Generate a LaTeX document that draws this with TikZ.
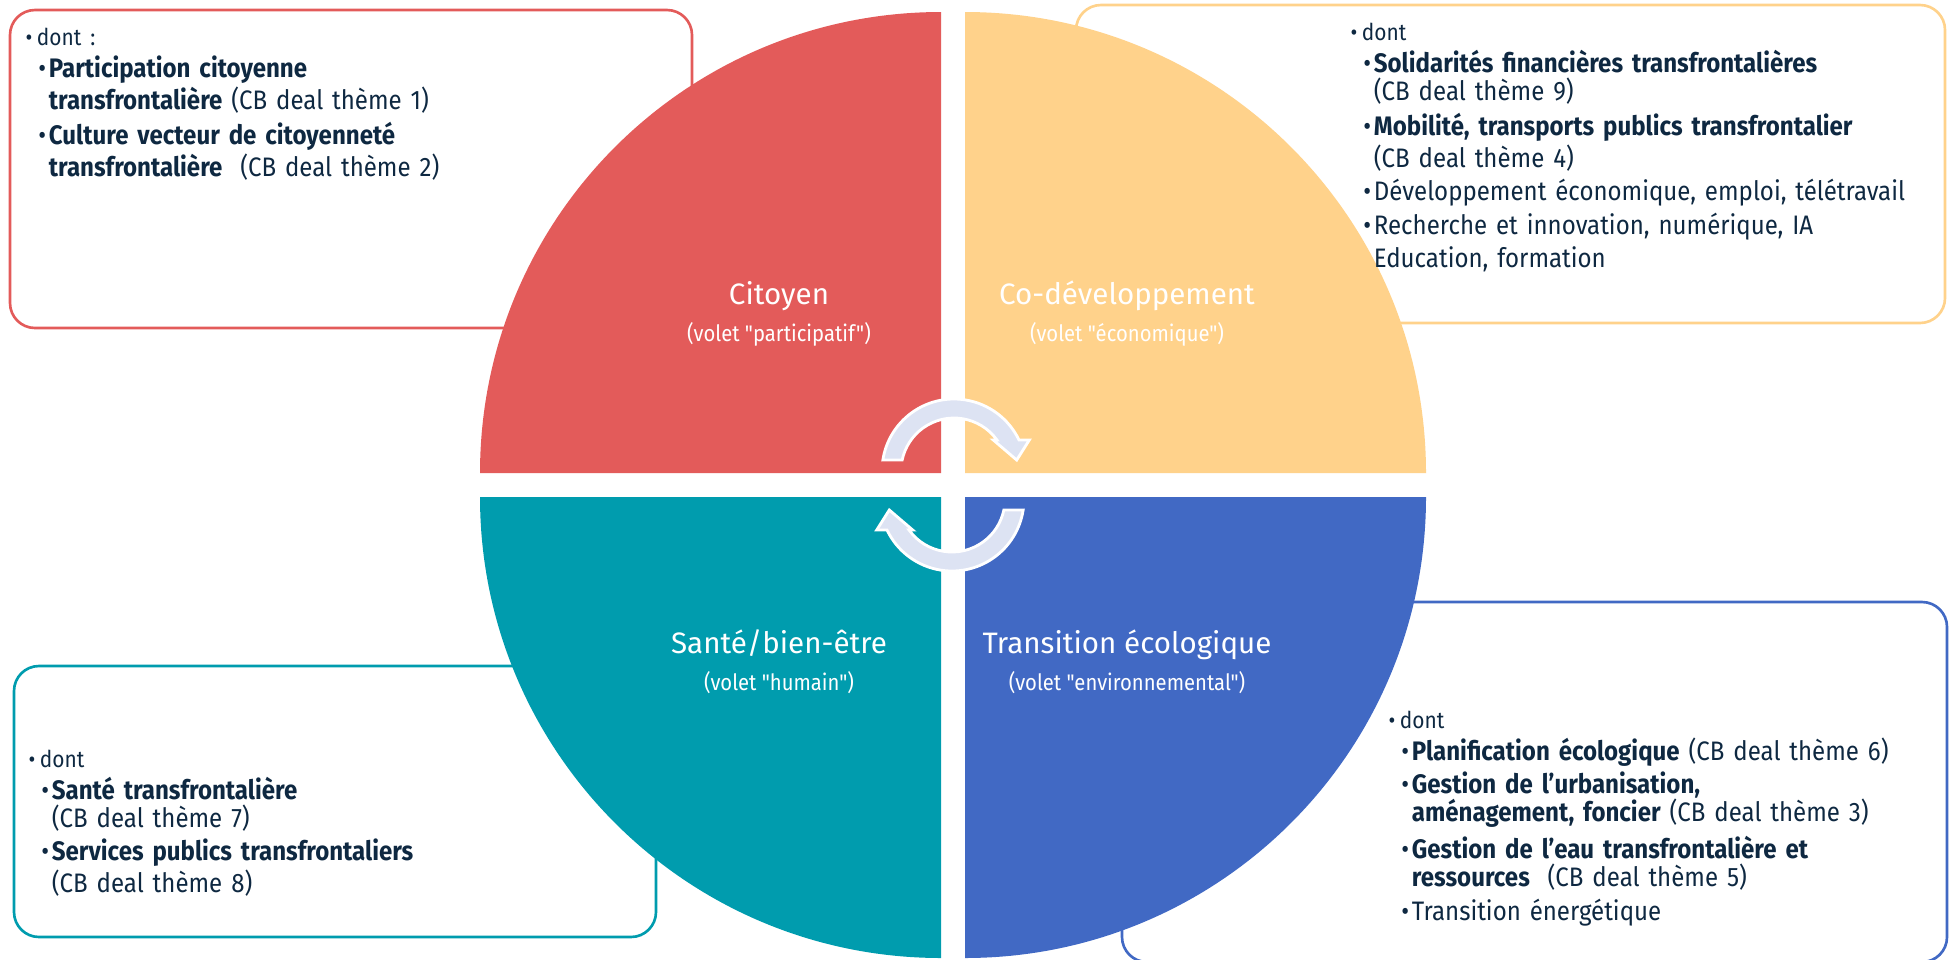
\documentclass[tikz,border=0pt]{standalone}
\usepackage{fontspec}
\setmainfont{Fira Sans}[FakeStretch=0.9, Ligatures=TeXOff]
\newfontfamily\titrefont{Fira Sans}[Ligatures=TeXOff]

\definecolor{rouge}{HTML}{E35B5A}
\definecolor{jaune}{HTML}{FFD28B}
\definecolor{turquoise}{HTML}{009CAE}
\definecolor{bleu}{HTML}{4169C4}
\definecolor{marine}{HTML}{0E2841}
\definecolor{flechefond}{HTML}{DDE3F3}

\newcommand{\dont}[1]{{\fontsize{6.6}{8}\selectfont\makebox[3.2pt][l]{\textbullet}#1}}
\newcommand{\puce}{\hspace*{3.6pt}\makebox[3pt][l]{\textbullet}}
\newcommand{\suite}{\hspace*{6.6pt}}

\tikzset{
  cadre/.style={line width=0.75pt, rounded corners=0.25cm},
  titre/.style={text=white, font=\titrefont\fontsize{8.4}{10}\selectfont, inner sep=0pt},
  soustitre/.style={text=white, font=\fontsize{6.4}{8}\selectfont, inner sep=0pt},
  liste/.style={text=marine, font=\fontsize{7.6}{8}\selectfont, text width=6.5cm, align=left, inner sep=0pt},
  fleche/.pic={
    \filldraw[fill=flechefond, draw=white, line width=0.8pt]
      (171.2:72) arc[start angle=171.2, end angle=25.5, radius=72]
      -- (75.3,31) -- (62.7,11) -- (39.3,31)
      -- (35.8:53) arc[start angle=35.8, end angle=168, radius=53] -- cycle;
  }
}

\begin{document}
\begin{tikzpicture}[x=0.01cm, y=0.01cm]
\useasboundingbox (0,0) rectangle (1949,959);
\coordinate (centre) at (953,474);

% cadres
\draw[cadre, draw=rouge] (10,631) rectangle (692,949);
\draw[cadre, draw=jaune] (1076,636) rectangle (1945,954);
\draw[cadre, draw=turquoise] (14,22) rectangle (656,293);
\draw[cadre, draw=bleu] (1122,-3) rectangle (1947,357);

% quartiers
\fill[rouge] (941,486) -- (480,486) arc[start angle=180, end angle=90, radius=461] -- cycle;
\fill[jaune] (965,486) -- (965,947) arc[start angle=90, end angle=0, radius=461] -- cycle;
\fill[turquoise] (941,462) -- (480,462) arc[start angle=180, end angle=270, radius=461] -- cycle;
\fill[bleu] (965,462) -- (1426,462) arc[start angle=0, end angle=-90, radius=461] -- cycle;

% fleches
\pic at (954,488) {fleche};
\pic[rotate=180] at (952,460) {fleche};

% volets
\node[titre, anchor=base] (cit) at (779,655) {Citoyen};
\node[soustitre, anchor=base] (citvolet) at ([yshift=-0.37cm]cit.base) {(volet "participatif")};
\node[titre, anchor=base] (codev) at (1127,655) {Co-développement};
\node[soustitre, anchor=base] (codevvolet) at ([yshift=-0.37cm]codev.base) {(volet "économique")};
\node[titre, anchor=base] (sante) at (779,306) {Santé/bien-être};
\node[soustitre, anchor=base] (santevolet) at ([yshift=-0.37cm]sante.base) {(volet "humain")};
\node[titre, anchor=base] (transeco) at (1127,306) {Transition écologique};
\node[soustitre, anchor=base] (transecovolet) at ([yshift=-0.37cm]transeco.base) {(volet "environnemental")};

% listes
\node[liste, anchor=base west] (listecit) at (25,914) {%
\dont{dont :}\\[1.1pt]
\puce\textbf{Participation citoyenne}\\
\suite\textbf{transfrontalière} (CB deal thème 1)\\[2pt]
\puce\textbf{Culture vecteur de citoyenneté}\\
\suite\textbf{transfrontalière}\ \ (CB deal thème 2)};

\node[liste, anchor=base west] (listecodev) at (1350,919) {%
\dont{dont}\\[1.1pt]
\puce\textbf{Solidarités financières transfrontalières}\\
\suite(CB deal thème 9)\\[2pt]
\puce\textbf{Mobilité, transports publics transfrontalier}\\
\suite(CB deal thème 4)\\[1.5pt]
\puce Développement économique, emploi, télétravail\\[1.5pt]
\puce Recherche et innovation, numérique, IA\\[1.5pt]
\suite Education, formation};

\node[liste, anchor=base west] (listesante) at (28,192) {%
\dont{dont}\\[1.1pt]
\puce\textbf{Santé transfrontalière}\\
\suite(CB deal thème 7)\\[1.5pt]
\puce\textbf{Services publics transfrontaliers}\\
\suite(CB deal thème 8)};

\node[liste, anchor=base west] (listetranseco) at (1388,231) {%
\dont{dont}\\[1.1pt]
\puce\textbf{Planification écologique} (CB deal thème 6)\\[1.5pt]
\puce\textbf{Gestion de l’urbanisation,}\\
\suite\textbf{aménagement, foncier} (CB deal thème 3)\\[1.5pt]
\puce\textbf{Gestion de l’eau transfrontalière et}\\
\suite\textbf{ressources}\ \ (CB deal thème 5)\\[1.5pt]
\puce Transition énergétique};
\end{tikzpicture}
\end{document}
